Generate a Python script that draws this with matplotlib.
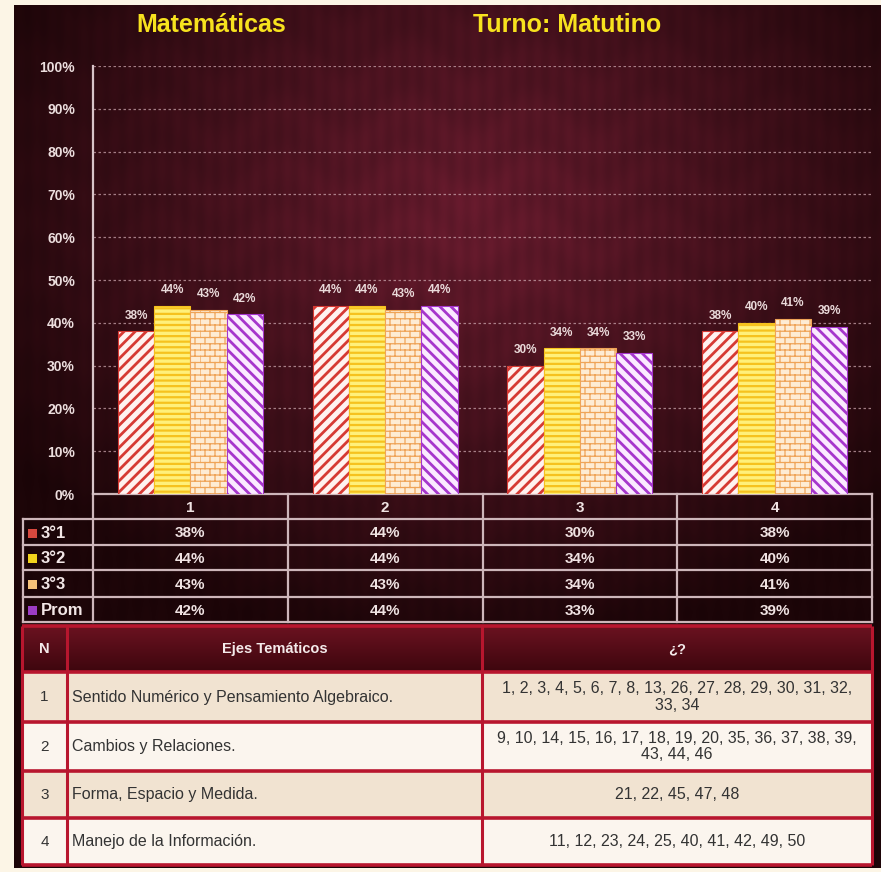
import numpy as np
import matplotlib
matplotlib.use("Agg")
import matplotlib.pyplot as plt
from matplotlib.patches import Rectangle
from matplotlib.colors import to_rgb
from matplotlib.ticker import FuncFormatter
from matplotlib.path import Path
import matplotlib.hatch as mhatch
import matplotlib.transforms as mtransforms
import warnings

warnings.filterwarnings("ignore")
plt.rcParams['font.family'] = ['Liberation Sans', 'DejaVu Sans']

# ---------------- data ----------------
title_left = "Matemáticas"
title_right = "Turno: Matutino"
categories = ["1", "2", "3", "4"]
series_names = ["3°1", "3°2", "3°3", "Prom"]
s31 = [38, 44, 30, 38]
s32 = [44, 44, 34, 40]
s33 = [43, 43, 34, 41]
prom = [42, 44, 33, 39]
series_values = [s31, s32, s33, prom]
y_ticks = [0, 10, 20, 30, 40, 50, 60, 70, 80, 90, 100]

table_header = ["N", "Ejes Temáticos", "¿?"]
table_n = ["1", "2", "3", "4"]
table_ejes = ["Sentido Numérico y Pensamiento Algebraico.",
              "Cambios y Relaciones.",
              "Forma, Espacio y Medida.",
              "Manejo de la Información."]
table_items = ["1, 2, 3, 4, 5, 6, 7, 8, 13, 26, 27, 28, 29, 30, 31, 32,\n33, 34",
               "9, 10, 14, 15, 16, 17, 18, 19, 20, 35, 36, 37, 38, 39,\n43, 44, 46",
               "21, 22, 45, 47, 48",
               "11, 12, 23, 24, 25, 40, 41, 42, 49, 50"]


# ---------------- custom brick hatch ----------------
class BrickHatch(mhatch.HatchPatternBase):
    def __init__(self, hatch, density):
        n = hatch.count('b')
        self.rows = 16 * n
        self.cols = 10 * n
        self.num_vertices = self.rows * 2 + self.rows * self.cols * 2

    def set_vertices_and_codes(self, vertices, codes):
        i = 0
        for r in range(self.rows):
            y = r / self.rows
            vertices[i] = (0.0, y)
            vertices[i + 1] = (1.0, y)
            codes[i] = Path.MOVETO
            codes[i + 1] = Path.LINETO
            i += 2
        for r in range(self.rows):
            y0 = r / self.rows
            y1 = (r + 1) / self.rows
            off = 0.5 / self.cols if r % 2 else 0.0
            for c in range(self.cols):
                xx = c / self.cols + off
                vertices[i] = (xx, y0)
                vertices[i + 1] = (xx, y1)
                codes[i] = Path.MOVETO
                codes[i + 1] = Path.LINETO
                i += 2


mhatch._hatch_types.append(BrickHatch)

# ---------------- styles ----------------
bar_styles = [
    dict(face="#fff2f0", edge="#d63a34", hatch="///", hlw=2.0, legend="#d8483e"),
    dict(face="#fff07a", edge="#f6c21e", hatch="---", hlw=1.6, legend="#f2d21c"),
    dict(face="#feecd4", edge="#efa458", hatch="b", hlw=0.9, legend="#f6c27a"),
    dict(face="#fbeaff", edge="#a636cc", hatch="\\\\\\", hlw=2.0, legend="#9c3cc4"),
]

W, H = 881, 872
fig = plt.figure(figsize=(W / 100, H / 100), dpi=100)
fig.patch.set_facecolor("#fcf5e6")

bg = fig.add_axes([0, 0, 1, 1])
bg.set_xlim(0, W)
bg.set_ylim(H, 0)
bg.axis("off")

# dark maroon panel with radial gradient
px0, px1, py0, py1 = 14, 881, 6, 868
gx = np.linspace(px0, px1, 400)
gy = np.linspace(py0, py1, 400)
GX, GY = np.meshgrid(gx, gy)
d = np.sqrt(((GX - 470) / 540) ** 2 + ((GY - 220) / 430) ** 2)
t = np.clip(d, 0, 1) ** 1.1
c_in = np.array(to_rgb("#641a2c"))
c_out = np.array(to_rgb("#1c0508"))
img = c_in[None, None, :] * (1 - t[..., None]) + c_out[None, None, :] * t[..., None]
streak = 0.04 * np.sin(GX / 2.5)[..., None] + 0.03 * np.sin(GY / 9.0 + np.sin(GX / 20.0) * 2)[..., None]
img = np.clip(img * (1 + streak), 0, 1)
bg.imshow(img, extent=[px0, px1, py1, py0], aspect="auto", zorder=0, interpolation="bilinear")

# titles
bg.text(211, 25, title_left, color="#f7e21e", fontsize=18, fontweight="bold",
        ha="center", va="center", zorder=5)
bg.text(567, 25, title_right, color="#f7e21e", fontsize=18, fontweight="bold",
        ha="center", va="center", zorder=5)

# ---------------- bar chart ----------------
y_top, y_zero = 66, 494
x_left, x_right = 93, 872
ax = fig.add_axes([x_left / W, (H - y_zero) / H, (x_right - x_left) / W, (y_zero - y_top) / H])
ax.patch.set_alpha(0)
ax.set_xlim(-0.5, len(categories) - 0.5)
ax.set_ylim(0, 100)

bw = 0.186
x = np.arange(len(categories))
for i, (vals, st) in enumerate(zip(series_values, bar_styles)):
    offs = (i - 1.5) * bw
    bars = ax.bar(x + offs, vals, width=bw, color=st["face"], edgecolor=st["edge"],
                  hatch=st["hatch"], linewidth=0.8, zorder=3)
    for b in bars:
        try:
            b.set_hatch_linewidth(st["hlw"])
        except Exception:
            pass
    for xi, v in zip(x + offs, vals):
        ax.annotate(f"{v}%", (xi, v), xytext=(0, 7), textcoords="offset points",
                    ha="center", va="bottom", fontsize=8.5, fontweight="bold",
                    color="#eadada", zorder=4)

ax.set_yticks(y_ticks)
ax.yaxis.set_major_formatter(FuncFormatter(lambda v, p: f"{int(v)}%"))
ax.tick_params(axis="y", length=0, pad=13, labelsize=10, labelcolor="#ecdede")
for lab in ax.get_yticklabels():
    lab.set_fontweight("bold")
ax.set_xticks([])
ax.grid(axis="y", color="#c9a4ac", linestyle=(0, (2, 2)), linewidth=0.9, alpha=0.75, zorder=1)
for sp in ["top", "right", "bottom"]:
    ax.spines[sp].set_visible(False)
ax.spines["left"].set_color("#d8c4c8")
ax.spines["left"].set_linewidth(1.6)

# ---------------- data table under chart ----------------
tr = mtransforms.blended_transform_factory(ax.transData, bg.transData)
row_y = [494, 519, 545, 570, 597, 622]
line_c = "#cdb6ba"
lw_t = 1.6
bg.plot([x_left, x_right], [row_y[0], row_y[0]], color=line_c, lw=lw_t, zorder=6)
for yy in row_y[1:]:
    bg.plot([23, x_right], [yy, yy], color=line_c, lw=lw_t, zorder=6)
for k in range(len(categories) + 1):
    bg.plot([k - 0.5, k - 0.5], [row_y[0], row_y[-1]], color=line_c, lw=lw_t,
            transform=tr, zorder=6)
bg.plot([23, 23], [row_y[1], row_y[-1]], color=line_c, lw=lw_t, zorder=6)

for k, c in enumerate(categories):
    bg.text(k, (row_y[0] + row_y[1]) / 2 + 1, c, transform=tr, ha="center", va="center",
            fontsize=11, fontweight="bold", color="#efe2e2", zorder=7)
for r, (name, vals, st) in enumerate(zip(series_names, series_values, bar_styles)):
    yc = (row_y[r + 1] + row_y[r + 2]) / 2 + 1
    bg.add_patch(Rectangle((28, yc - 4.5), 9, 9, facecolor=st["legend"],
                           edgecolor="none", zorder=7))
    bg.text(41, yc, name, ha="left", va="center", fontsize=12, fontweight="bold",
            color="#f2e6e6", zorder=7)
    for k, v in enumerate(vals):
        bg.text(k, yc, f"{v}%", transform=tr, ha="center", va="center", fontsize=11,
                fontweight="bold", color="#efe2e2", zorder=7)

# ---------------- lower table ----------------
tx = [22, 67, 482, 872]
ty = [626, 672, 722, 771, 818, 865]
red = "#b8162e"
hg = np.linspace(0, 1, 50)[:, None] * np.ones((1, 2))
hc0 = np.array(to_rgb("#6a1220"))
hc1 = np.array(to_rgb("#3e060e"))
himg = hc0[None, None, :] * (1 - hg[..., None]) + hc1[None, None, :] * hg[..., None]
bg.imshow(himg, extent=[tx[0], tx[-1], ty[1], ty[0]], aspect="auto", zorder=6)
bg.set_xlim(0, W)
bg.set_ylim(H, 0)
row_cols = ["#f1e3d1", "#fbf5ee", "#f1e3d1", "#fbf5ee"]
for r in range(4):
    bg.add_patch(Rectangle((tx[0], ty[r + 1]), tx[-1] - tx[0], ty[r + 2] - ty[r + 1],
                           facecolor=row_cols[r], edgecolor="none", zorder=6))
for yy in ty:
    bg.plot([tx[0], tx[-1]], [yy, yy], color=red, lw=2.6, zorder=8, solid_capstyle="butt")
for xx in tx:
    bg.plot([xx, xx], [ty[0], ty[-1]], color=red, lw=2.2, zorder=8, solid_capstyle="butt")

hy = (ty[0] + ty[1]) / 2
for j, h in enumerate(table_header):
    bg.text((tx[j] + tx[j + 1]) / 2, hy, h, ha="center", va="center", fontsize=10.5,
            fontweight="bold", color="#f4eaea", zorder=9)
for r in range(4):
    yc = (ty[r + 1] + ty[r + 2]) / 2
    bg.text((tx[0] + tx[1]) / 2, yc, table_n[r], ha="center", va="center",
            fontsize=11, color="#333333", zorder=9)
    bg.text(tx[1] + 5, yc, table_ejes[r], ha="left", va="center",
            fontsize=11.5, color="#333333", zorder=9)
    bg.text((tx[2] + tx[3]) / 2, yc, table_items[r], ha="center", va="center",
            fontsize=11.5, color="#333333", zorder=9, linespacing=1.15)

fig.savefig("out.png", dpi=100, facecolor=fig.get_facecolor())
